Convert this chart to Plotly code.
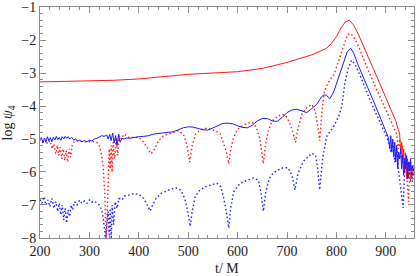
import plotly.graph_objects as go

# ---- data ----
red_solid_t = [200, 250, 300, 350, 400, 450, 500, 550, 600, 650, 700, 750, 780, 790, 800, 810, 818, 826,
               835, 845, 860, 880, 900, 920, 928, 930, 932, 934, 936, 938, 940, 942, 944, 946, 948, 950,
               952, 954, 957]
red_solid_v = [-3.27, -3.26, -3.25, -3.22, -3.18, -3.10, -3.04, -3.00, -2.96, -2.86, -2.68, -2.45, -2.25,
               -2.10, -1.90, -1.62, -1.45, -1.40, -1.55, -1.85, -2.35, -3.05, -3.75, -4.45, -4.85, -5.4,
               -5.1, -5.7, -5.3, -6.0, -5.5, -6.2, -5.6, -6.1, -5.7, -6.3, -5.8, -6.1, -5.9]

blue_solid_t = [200, 203, 206, 209, 212, 215, 218, 221, 224, 227, 230, 233, 236, 239, 242, 245, 248, 251,
                254, 257, 260, 264, 268, 272, 276, 280, 285, 290, 295, 300, 305, 310, 315, 320, 325, 330,
                335, 338, 341, 344, 347, 350, 353, 356, 359, 362, 366, 370, 375, 380, 390, 400, 410, 420,
                430, 440, 450, 460, 470, 480, 490, 500, 510, 520, 530, 540, 550, 560, 570, 580, 590, 600,
                610, 620, 630, 640, 650, 660, 670, 680, 690, 700, 710, 720, 730, 740, 750, 760, 770, 775,
                780, 787, 795, 805, 815, 822, 829, 835, 845, 860, 875, 890, 905, 908, 910, 912, 914, 916,
                918, 920, 922, 924, 926, 928, 930, 932, 934, 936, 938, 940, 942, 944, 946, 948, 950, 952,
                954, 957]
blue_solid_v = [-5.05, -4.95, -5.12, -4.98, -5.10, -4.93, -5.06, -4.96, -5.08, -4.94, -5.03, -4.92, -5.02,
                -4.95, -5.04, -4.93, -5.00, -4.92, -4.98, -4.93, -5.00, -4.95, -5.03, -5.00, -5.06, -5.04,
                -5.08, -5.05, -5.08, -5.04, -5.06, -5.00, -4.98, -4.95, -4.90, -4.92, -4.88, -5.00, -4.86,
                -5.05, -4.82, -5.12, -4.90, -5.20, -4.85, -5.10, -4.98, -5.00, -4.97, -4.98, -4.95, -4.93,
                -4.92, -4.90, -4.85, -4.83, -4.82, -4.80, -4.78, -4.72, -4.66, -4.63, -4.64, -4.68, -4.72,
                -4.73, -4.66, -4.58, -4.53, -4.52, -4.54, -4.60, -4.65, -4.66, -4.58, -4.45, -4.38, -4.38,
                -4.45, -4.47, -4.35, -4.20, -4.12, -4.10, -4.15, -4.20, -4.08, -3.95, -3.72, -3.66, -3.68,
                -3.78, -3.55, -3.10, -2.60, -2.35, -2.25, -2.40, -2.80, -3.30, -3.85, -4.40, -4.95, -5.3,
                -4.9, -5.4, -5.0, -5.55, -5.1, -5.7, -5.2, -5.9, -5.4, -5.6, -5.3, -5.9, -5.5, -6.1, -5.6,
                -5.9, -5.5, -6.2, -5.7, -6.0, -5.6, -6.1, -5.8, -6.0]

red_dot_t = [200, 205, 210, 215, 220, 225, 228, 232, 235, 238, 241, 244, 247, 250, 253, 256, 259, 262,
             265, 268, 275, 285, 295, 305, 315, 320, 325, 328, 331, 334, 337, 340, 342, 344, 346, 348, 351,
             354, 357, 360, 365, 370, 380, 390, 400, 410, 418, 425, 432, 440, 450, 460, 470, 480, 490, 497,
             503, 508, 515, 525, 535, 545, 555, 565, 572, 578, 582, 586, 592, 600, 610, 620, 630, 638, 645,
             650, 652, 656, 662, 670, 680, 690, 698, 705, 712, 717, 722, 730, 740, 750, 757, 762, 766, 770,
             775, 780, 787, 795, 805, 815, 822, 828, 835, 845, 861, 880, 900, 915, 922, 925, 928, 931, 934,
             937, 940, 943, 946, 948, 950, 953, 957]
red_dot_v = [-5.0, -5.1, -5.0, -5.15, -5.05, -5.3, -5.15, -5.45, -5.2, -5.5, -5.25, -5.6, -5.3, -5.65,
             -5.35, -5.7, -5.3, -5.55, -5.2, -5.1, -5.05, -5.08, -5.1, -5.07, -5.1, -5.2, -5.5, -5.9, -6.6,
             -8.3, -6.5, -5.3, -5.9, -5.2, -6.0, -5.1, -5.6, -4.95, -5.5, -4.9, -5.0, -4.85, -4.95, -4.95,
             -4.95, -5.1, -5.3, -5.45, -5.3, -5.05, -4.9, -4.85, -4.8, -4.75, -4.85, -5.15, -5.7, -5.2,
             -4.85, -4.72, -4.68, -4.7, -4.75, -4.85, -5.15, -5.45, -5.75, -5.3, -4.95, -4.7, -4.6, -4.52,
             -4.5, -4.65, -5.0, -5.5, -5.75, -5.2, -4.75, -4.45, -4.32, -4.25, -4.3, -4.5, -4.8, -5.1,
             -4.7, -4.25, -4.05, -3.95, -4.15, -4.6, -5.05, -4.3, -3.6, -3.4, -3.2, -3.05, -2.6, -2.1,
             -1.85, -1.80, -1.9, -2.2, -2.8, -3.45, -4.1, -4.6, -4.85, -5.3, -5.0, -5.6, -5.2, -5.9, -5.4,
             -6.3, -6.9, -6.1, -5.6, -6.2, -5.8]

blue_dot_t = [200, 204, 208, 212, 216, 220, 224, 228, 232, 236, 239, 242, 245, 248, 251, 254, 257, 260,
              263, 266, 270, 275, 280, 285, 290, 295, 300, 305, 310, 315, 320, 325, 328, 331, 333, 335,
              338, 340, 342, 344, 346, 349, 352, 356, 360, 366, 372, 380, 390, 400, 410, 417, 423, 428,
              435, 445, 455, 465, 475, 485, 493, 499, 504, 508, 514, 524, 535, 548, 558, 566, 572, 577,
              582, 586, 592, 605, 620, 632, 642, 647, 652, 657, 664, 672, 689, 702, 710, 716, 722, 733,
              750, 758, 762, 766, 772, 780, 795, 805, 811, 817, 824, 831, 838, 850, 868, 890, 905, 910,
              914, 918, 922, 926, 930, 935, 938, 942, 946, 950, 954, 957]
blue_dot_v = [-6.84, -6.95, -6.75, -7.0, -6.85, -7.05, -6.8, -7.1, -6.9, -7.2, -6.95, -7.3, -7.0, -7.45,
              -7.1, -7.55, -7.15, -7.35, -7.0, -7.15, -6.9, -7.0, -6.85, -6.95, -6.88, -6.95, -6.85,
              -6.92, -6.88, -6.95, -7.0, -7.15, -7.4, -7.8, -8.3, -7.6, -7.2, -7.9, -7.1, -8.1, -7.0,
              -7.6, -6.9, -7.1, -6.8, -6.85, -6.72, -6.7, -6.65, -6.68, -6.8, -7.0, -7.18, -7.0, -6.8,
              -6.65, -6.58, -6.52, -6.48, -6.55, -6.8, -7.2, -7.65, -7.2, -6.75, -6.54, -6.45, -6.38,
              -6.34, -6.45, -6.8, -7.2, -7.7, -7.1, -6.6, -6.34, -6.25, -6.18, -6.25, -6.6, -7.19, -6.6,
              -6.2, -6.03, -5.88, -5.87, -6.1, -6.54, -6.05, -5.68, -5.43, -5.5, -5.9, -6.54, -5.6, -4.93,
              -4.6, -4.3, -4.0, -3.3, -2.85, -2.61, -2.75, -3.15, -3.82, -4.55, -5.05, -5.4, -5.1, -5.7,
              -5.3, -6.0, -6.5, -7.09, -6.0, -5.7, -6.2, -5.8, -6.3, -5.9]

x_ticks = [200, 300, 400, 500, 600, 700, 800, 900]
y_ticks = [-8, -7, -6, -5, -4, -3, -2, -1]
x_title = "t/ M"
y_title = "log <i>ψ</i><sub>4</sub>"

RED = "#ff1a1a"
BLUE = "#1a1aff"
DOTS = "1.5px,2.5px"
FONT = dict(family="Liberation Serif", size=14, color="#222")

fig = go.Figure()
fig.add_trace(go.Scatter(x=red_solid_t, y=red_solid_v, mode="lines",
                         line=dict(color=RED, width=1)))
fig.add_trace(go.Scatter(x=red_dot_t, y=red_dot_v, mode="lines",
                         line=dict(color=RED, width=1.4, dash=DOTS)))
fig.add_trace(go.Scatter(x=blue_solid_t, y=blue_solid_v, mode="lines",
                         line=dict(color=BLUE, width=1)))
fig.add_trace(go.Scatter(x=blue_dot_t, y=blue_dot_v, mode="lines",
                         line=dict(color=BLUE, width=1.4, dash=DOTS)))

axis_common = dict(
    showline=True, linecolor="#8c8c8c", linewidth=1, mirror="allticks",
    ticks="inside", tickcolor="#8c8c8c", ticklen=6, tickwidth=1,
    showgrid=False, zeroline=False, automargin=False,
    tickfont=FONT, ticklabeloverflow="allow",
)

fig.update_xaxes(range=[200, 957], tickvals=x_ticks,
                 minor=dict(ticks="inside", dtick=20, ticklen=3, tickcolor="#8c8c8c"),
                 **axis_common)
fig.update_yaxes(range=[-8.001, -0.999], tickvals=y_ticks,
                 minor=dict(ticks="inside", dtick=0.2, ticklen=3, tickcolor="#8c8c8c"),
                 **axis_common)

fig.add_annotation(text=x_title, xref="paper", yref="paper", x=0.5, y=-0.13,
                   xanchor="center", yanchor="middle", showarrow=False, font=FONT)
fig.add_annotation(text=y_title, xref="paper", yref="paper", x=-0.083, y=0.5,
                   xanchor="center", yanchor="middle", showarrow=False, textangle=-90, font=FONT)

fig.update_layout(width=416, height=276, showlegend=False,
                  margin=dict(l=40, r=2, t=7, b=38),
                  plot_bgcolor="white", paper_bgcolor="white")

fig.write_html("out.html", config={"displayModeBar": False},
               post_script="document.body.style.margin='0';document.body.style.overflow='hidden';")
